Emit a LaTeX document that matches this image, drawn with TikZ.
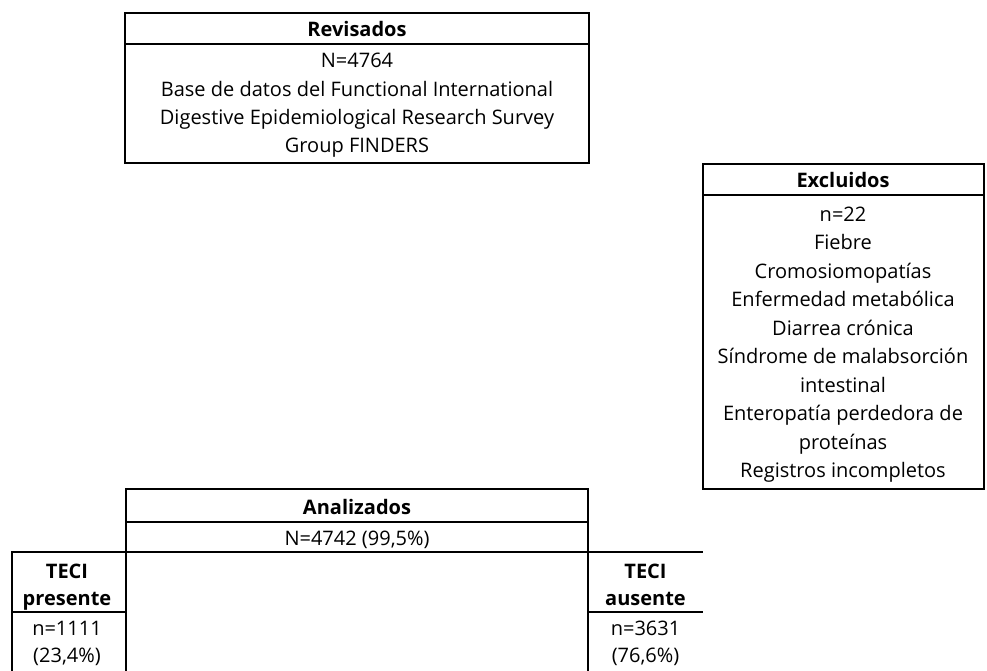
\documentclass[tikz,border=0pt]{standalone}
\usepackage{fontspec}
\setmainfont{Open Sans}
\begin{document}
\begin{tikzpicture}[x=1pt,y=-1pt,
  ln/.style={line width=2.8pt},
  txt/.style={anchor=base,inner sep=0pt,font=\fontsize{20}{23}\selectfont},
  hd/.style={anchor=base,inner sep=0pt,font=\bfseries\fontsize{20}{23}\selectfont},
  boxarea/.style={inner sep=0pt,outer sep=0pt,anchor=north west}]
\useasboundingbox (0,0) rectangle (987,671);
% Revisados
\node[boxarea,minimum width=464pt,minimum height=150pt] (rev) at (125,13) {};
\draw[ln] (rev.north west) rectangle (rev.south east);
\coordinate (revl) at (125,44); \coordinate (revr) at (589,44);
\draw[ln] (revl) -- (revr);
\node[hd] (revh) at (357,37) {Revisados};
\node[txt] (rev1) at (357,68) {N=4764};
\node[txt] (rev2) at (357,97) {Base de datos del Functional International};
\node[txt] (rev3) at (357,125) {Digestive Epidemiological Research Survey};
\node[txt] (rev4) at (357,153) {Group FINDERS};
% Excluidos
\node[boxarea,minimum width=281pt,minimum height=325pt] (exc) at (703,164) {};
\draw[ln] (exc.north west) rectangle (exc.south east);
\coordinate (excl) at (703,195); \coordinate (excr) at (984,195);
\draw[ln] (excl) -- (excr);
\node[hd] (exch) at (843,187) {Excluidos};
\node[txt] (exc1) at (843,221) {n=22};
\node[txt] (exc2) at (843,249.5) {Fiebre};
\node[txt] (exc3) at (843,278) {Cromosiomopatías};
\node[txt] (exc4) at (843,306.5) {Enfermedad metabólica};
\node[txt] (exc5) at (843,335) {Diarrea crónica};
\node[txt] (exc6) at (843,363.5) {Síndrome de malabsorción};
\node[txt] (exc7) at (843,392) {intestinal};
\node[txt] (exc8) at (843,420.5) {Enteropatía perdedora de};
\node[txt] (exc9) at (843,449) {proteínas};
\node[txt] (exc10) at (843,477.5) {Registros incompletos};
% Analizados
\coordinate (a1) at (126,671); \coordinate (a2) at (126,489);
\coordinate (a3) at (588,489); \coordinate (a4) at (588,671);
\draw[ln] (a1) -- (a2) -- (a3) -- (a4);
\coordinate (asl) at (126,522); \coordinate (asr) at (588,522);
\draw[ln] (asl) -- (asr);
\node[hd] (anah) at (357,514) {Analizados};
\node[txt] (ana1) at (357,545) {N=4742 (99,5\%)};
% TECI lines
\coordinate (t1) at (12,671); \coordinate (t2) at (12,552); \coordinate (t3) at (703,552);
\draw[ln] (t1) -- (t2) -- (t3);
\coordinate (pl) at (12,612); \coordinate (pr) at (126,612);
\draw[ln] (pl) -- (pr);
\coordinate (ql) at (588,612); \coordinate (qr) at (703,612);
\draw[ln] (ql) -- (qr);
\node[hd] (pre1) at (67,578) {TECI};
\node[hd] (pre2) at (67,605) {presente};
\node[txt] (pre3) at (67,635) {n=1111};
\node[txt] (pre4) at (67,662) {(23,4\%)};
\node[hd] (aus1) at (645.5,578) {TECI};
\node[hd] (aus2) at (645.5,605) {ausente};
\node[txt] (aus3) at (645.5,635) {n=3631};
\node[txt] (aus4) at (645.5,662) {(76,6\%)};
\end{tikzpicture}
\end{document}
